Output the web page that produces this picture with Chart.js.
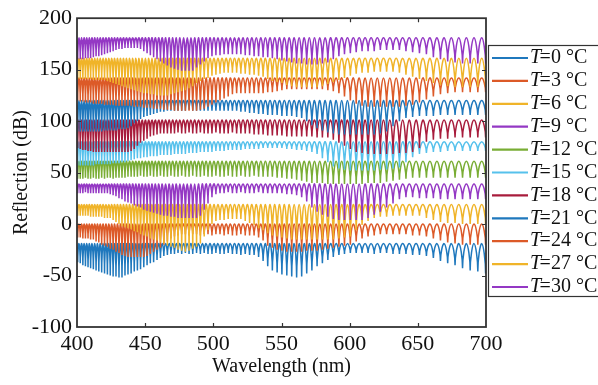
<!DOCTYPE html>
<html>
<head>
<meta charset="utf-8">
<title>Reflection spectra vs temperature</title>
<script src="https://cdn.jsdelivr.net/npm/chart.js@4.4.1/dist/chart.umd.min.js"></script>
<style>
  html, body { margin: 0; padding: 0; background: #fff; }
  #wrap { width: 598px; height: 385px; }
</style>
</head>
<body>
<div id="wrap"><canvas id="reflChart" width="598" height="385"></canvas></div>
<script>
// temperatures (°C) of the eleven spectra, each one shifted up by ~20 dB
const temps = [0, 3, 6, 9, 12, 15, 18, 21, 24, 27, 30];

// fringe maxima (arch tops) and minima (notches), in nm
const peakNm = [399.6, 401.45, 403.35, 405.25, 407.15, 409.05, 411.0, 413.0, 415.0, 417.05,
  419.15, 421.25, 423.35, 425.45, 427.55, 429.7, 431.9, 434.1, 436.3, 438.55,
  440.85, 443.15, 445.45, 447.8, 450.2, 452.6, 455.0, 457.45, 459.95, 462.45,
  465.0, 467.6, 470.2, 472.8, 475.45, 478.15, 480.85, 483.55, 486.3, 489.1,
  491.9, 494.7, 497.55, 500.45, 503.4, 506.4, 509.4, 512.45, 515.55, 518.65,
  521.8, 525.0, 528.25, 531.55, 534.85, 538.2, 541.6, 545.05, 548.55, 552.1,
  555.7, 559.3, 562.95, 566.65, 570.4, 574.2, 578.05, 582.0, 586.0, 590.05,
  594.15, 598.35, 602.65, 606.95, 611.3, 615.75, 620.25, 624.8, 629.45, 634.15,
  638.9, 643.75, 648.7, 653.75, 658.85, 664.0, 669.25, 674.6, 680.05, 685.6,
  691.2, 696.85, 702.5];
const dipNm = [400.5, 402.4, 404.3, 406.2, 408.1, 410.0, 412.0, 414.0, 416.0, 418.1,
  420.2, 422.3, 424.4, 426.5, 428.6, 430.8, 433.0, 435.2, 437.4, 439.7,
  442.0, 444.3, 446.6, 449.0, 451.4, 453.8, 456.2, 458.7, 461.2, 463.7,
  466.3, 468.9, 471.5, 474.1, 476.8, 479.5, 482.2, 484.9, 487.7, 490.5,
  493.3, 496.1, 499.0, 501.9, 504.9, 507.9, 510.9, 514.0, 517.1, 520.2,
  523.4, 526.6, 529.9, 533.2, 536.5, 539.9, 543.3, 546.8, 550.3, 553.9,
  557.5, 561.1, 564.8, 568.5, 572.3, 576.1, 580.0, 584.0, 588.0, 592.1,
  596.2, 600.5, 604.8, 609.1, 613.5, 618.0, 622.5, 627.1, 631.8, 636.5,
  641.3, 646.2, 651.2, 656.3, 661.4, 666.6, 671.9, 677.3, 682.8, 688.4,
  694.0, 699.7];

// reflection at the arch tops (dB), one per temperature
const topLevels = [-19, 0, 19, 39, 61, 80, 101, 120, 142, 161, 181];

// reflection at each notch (dB)
const dipT0 = [-37, -38, -40, -41, -42, -43, -44, -45, -46, -47, -48, -49, -50, -51, -51, -52, -52, -50, -49, -48,
  -46, -45, -44, -42, -40, -38, -37, -35, -33, -31, -30, -29,
  -29, -28, -29, -28, -29, -29, -28, -29, -28, -29, -29, -28, -29, -29, -28, -29, -29, -30, -29, -30, -30,
  -32, -36, -41, -45, -47, -49, -50, -51, -52, -51, -48, -45, -41, -38, -35, -32, -30,
  -29, -28, -28, -28, -28, -29, -28, -28, -29, -29, -29,
  -30, -30, -31, -33, -36, -38, -40, -43, -45, -46, -48];
const dipT3 = [-13, -13, -14, -14, -14, -15, -15, -17, -18, -20, -21, -22, -24, -25, -27, -28, -30, -31, -32, -32,
  -32, -32, -32, -32, -31, -29, -27, -25, -23, -20, -17, -14, -12,
  -11, -10, -10, -11, -10, -10, -11, -10, -10, -11, -10, -10, -11, -10, -11, -11, -10, -11, -11,
  -11, -13, -16, -21, -23, -25, -26, -27, -27, -27, -27, -26, -26, -26, -25, -24, -23, -22, -21, -20, -17, -14, -12,
  -11, -10, -10, -10, -10, -10, -11, -11, -12, -14, -16, -18, -19, -20, -20, -20, -20];
const dipT6 = [8, 8, 8, 8, 8, 7, 7, 7, 7, 7, 6, 6, 6, 4, 2, 0, -2, -3, -4, -5,
  -7, -8, -10, -11, -12, -14, -15, -16, -18, -19, -21, -22, -23, -25, -26, -27, -26, -24, -22, -19,
  -12, -6, 0, 3, 4, 4, 5, 5, 5, 5, 3, 1, -1, -4, -6, -9, -11, -12, -13, -14,
  -15, -15, -15, -15, -15, -15, -15, -15, -15, -14, -13, -12, -6, -1, 3, 6, 7, 7, 8, 8,
  8, 8, 8, 6, 4, 2, 1, 1, 0, 0, 0, 0];
const dipT9 = [30, 30, 30, 31, 30, 30, 30, 30, 30, 30, 30, 30, 29,
  28, 27, 25, 24, 22, 21, 20, 18, 17, 16, 14, 13, 12, 11, 10, 9, 8, 8, 7, 7, 6, 6, 6, 6, 6, 6,
  8, 14, 20, 26, 29, 30,
  30, 31, 30, 30, 31, 30, 30, 30, 31, 30, 30, 30, 30, 30,
  29, 29, 28, 26, 22, 16, 12, 9, 7, 5, 4, 4, 4, 4, 4, 6, 9, 12, 16, 20,
  24, 26, 26, 25, 25, 25, 24, 24, 24, 24, 24, 24, 24];
const dipT12 = [44, 44, 44, 45, 44, 44, 45, 44, 44, 45, 44, 45, 45, 44, 45, 45, 45, 45, 46, 46,
  46, 46, 47, 46, 46, 47, 46, 46, 47, 46, 46, 47, 46, 46, 47, 46, 46, 47, 46, 46, 47,
  46, 46, 47, 46, 46, 47, 46, 46, 47, 46, 46, 47, 46, 46, 46, 46, 45, 45, 44, 44, 43,
  42, 41, 40, 40, 40, 39, 39, 39, 39, 39, 39, 39, 40, 40, 40, 41, 42, 43,
  44, 45, 45, 45, 45, 45, 45, 45, 45, 45, 45, 45];
const dipT15 = [57, 57, 57, 57, 57, 57, 57, 58, 58, 58, 58, 58, 58, 59, 59, 59, 60, 60, 61, 62,
  63, 64, 64, 65, 65, 66, 66, 66, 67, 67, 67, 67,
  68, 68, 68, 68, 69, 69, 69, 70, 70, 70, 70, 71, 71, 71, 72, 72, 72, 72, 73, 73, 73, 73, 74, 74,
  74, 74, 74, 73, 73, 72, 72, 71, 70, 68, 64, 60,
  56, 54, 53, 52, 52, 52, 52, 52, 53, 53, 54, 55, 60, 65, 68, 69,
  70, 70, 71, 71, 71, 71, 71, 71];
const dipT18 = [74, 73, 72, 72, 71, 71, 70, 70, 70, 70, 70, 70, 70, 70, 70, 70, 70, 70, 70, 71,
  73, 76, 79, 81, 83, 85, 86, 87, 88, 88, 88, 88,
  88, 89, 88, 88, 89, 88, 88, 89, 88, 88, 88, 89, 88, 88, 88, 89, 88, 88, 88, 88,
  87, 87, 87, 86, 86, 86, 86, 85, 85, 85, 85, 85,
  85, 84, 84, 84, 82, 79, 76, 73, 70, 69, 68, 68, 68, 68, 68, 69, 69, 70,
  74, 80, 82, 83, 83, 84, 84, 84, 84, 84];
const dipT21 = [90, 90, 90, 90, 90, 90, 90, 90, 90, 90, 91, 91, 91, 91, 91, 92, 92, 92, 93, 95,
  98, 100, 102, 104, 105, 106, 107, 108,
  109, 109, 110, 110, 110, 110, 110, 110, 111, 110, 110, 110, 110, 110, 110, 110, 110, 110, 110, 110,
  110, 109, 109, 108, 108, 107, 107, 106,
  106, 106, 105, 105, 105, 104, 103, 100, 96, 93, 91, 89, 88, 87, 87, 87,
  87, 87, 87, 87, 88, 90, 95, 100, 103, 104,
  105, 105, 105, 106, 106, 106, 106, 106, 106, 106];
const dipT24 = [120, 119, 119, 118, 118, 118, 117, 117, 117, 117, 116, 116, 116, 116, 115, 115, 115, 115, 115, 115,
  114, 114, 114, 113, 113, 113, 112, 112, 112, 111, 111, 111,
  110, 110, 110, 110, 110, 110, 110, 111, 112, 114, 116, 118,
  120, 122, 124, 126, 127, 127, 127, 127, 127, 127, 127, 128, 128, 129, 130, 131,
  131, 131, 131, 131, 131, 131, 131, 130, 129, 127, 124, 120,
  117, 115, 114, 114, 114, 114, 114, 114, 115, 116, 118, 121,
  124, 126, 127, 128, 128, 128, 128, 128];
const dipT27 = [141, 141, 141, 141, 141, 141, 140, 140, 140, 140, 140,
  139, 138, 137, 136, 135, 134, 133, 132, 131,
  130, 129, 128, 127, 127, 126, 126, 125, 125, 125,
  125, 126, 127, 128, 129, 130, 132, 134,
  137, 139, 141, 142, 144, 145, 146, 147,
  147, 147, 147, 146, 146, 145, 145, 144,
  143, 141, 139, 138, 137, 135,
  134, 133, 133, 133, 133, 133, 134, 136,
  138, 140, 142, 144, 146, 147,
  147, 148, 148, 148, 148, 147,
  145, 143, 141, 139, 137, 135,
  134, 133, 133, 133, 133, 134];
const dipT30 = [160, 160, 160, 161, 161, 161, 162, 163, 163, 164, 165,
  166, 167, 168, 169, 170, 170, 171, 171, 171, 171, 171, 170,
  168, 166, 164, 162, 160, 158, 156,
  154, 152, 151, 150, 149, 149, 149, 149,
  152, 155, 158, 161, 163, 164,
  164, 165, 165, 165, 165, 165, 164, 164, 163, 163,
  162, 162, 161, 160, 159, 158,
  157, 156, 156, 155, 155, 155, 156, 157,
  160, 163, 165, 166, 167, 168,
  168, 168, 169, 169, 169, 169,
  168, 167, 166, 165, 162, 160,
  158, 157, 156, 156, 156, 156];

const dipSets = [dipT0, dipT3, dipT6, dipT9, dipT12, dipT15, dipT18, dipT21, dipT24, dipT27, dipT30];

const lineColors = ['#1f78bd', '#dc5a28', '#f0b429', '#9438c4', '#79ad34', '#56c1ec',
  '#a81c3c', '#1f78bd', '#dc5a28', '#f0b429', '#9438c4'];

const serif = '"Liberation Serif", "Times New Roman", serif';

// top / notch / top / notch ... for one temperature
function buildSeries(top, dips) {
  const pts = [];
  for (let i = 0; i < dips.length; i++) {
    pts.push({ x: peakNm[i], y: top });
    pts.push({ x: dipNm[i], y: dips[i] });
  }
  pts.push({ x: peakNm[dips.length], y: top });
  return pts;
}

const datasets = temps.map((t, i) => ({
  label: 'T=' + t + ' °C',
  data: buildSeries(topLevels[i], dipSets[i]),
  borderColor: lineColors[i],
  borderWidth: 1.5,
  pointRadius: 0,
  tension: 0.4,
  fill: false,
  order: temps.length - i
}));

// round arch tops but sharp notches: after the bezier handles are computed,
// pull the handles of every notch straight up so the curve comes in steeply
const notchShape = {
  id: 'notchShape',
  beforeDatasetDraw(chart, args) {
    const meta = args.meta;
    meta.dataset.updateControlPoints(chart.chartArea, meta.iScale.axis);
    const pts = meta.data;
    for (let i = 1; i < pts.length - 1; i += 2) {
      const p = pts[i];
      const lift = (Math.max(pts[i - 1].y, pts[i + 1].y) - p.y) * 0.45;
      p.cp1x = p.x; p.cp2x = p.x;
      p.cp1y = p.y + lift; p.cp2y = p.y + lift;
    }
  }
};

// box around the plot with inward ticks on all four sides
const frame = {
  id: 'frame',
  afterDatasetsDraw(chart) {
    const { ctx, chartArea: a, scales } = chart;
    ctx.save();
    ctx.strokeStyle = '#333';
    ctx.lineWidth = 1.8;
    ctx.strokeRect(a.left, a.top, a.right - a.left, a.bottom - a.top);
    ctx.lineWidth = 1.2;
    ctx.beginPath();
    scales.x.ticks.forEach(t => {
      if (t.value <= scales.x.min || t.value >= scales.x.max) return;
      const x = Math.round(scales.x.getPixelForValue(t.value)) + 0.5;
      ctx.moveTo(x, a.bottom); ctx.lineTo(x, a.bottom - 4);
      ctx.moveTo(x, a.top); ctx.lineTo(x, a.top + 4);
    });
    scales.y.ticks.forEach(t => {
      if (t.value <= scales.y.min || t.value >= scales.y.max) return;
      const y = Math.round(scales.y.getPixelForValue(t.value)) + 0.5;
      ctx.moveTo(a.left, y); ctx.lineTo(a.left + 4, y);
      ctx.moveTo(a.right, y); ctx.lineTo(a.right - 4, y);
    });
    ctx.stroke();
    ctx.restore();
  }
};

// legend box on the right, "T" in italics
const tempLegend = {
  id: 'tempLegend',
  afterDraw(chart) {
    const ctx = chart.ctx;
    const left = chart.chartArea.right + 2;
    const top = 45;
    const rowH = 22.9;
    ctx.save();
    ctx.fillStyle = '#fff';
    ctx.fillRect(left, top, 130, 252);
    ctx.strokeStyle = '#333';
    ctx.lineWidth = 1.2;
    ctx.strokeRect(left + 0.5, top + 0.5, 130, 251);
    ctx.textBaseline = 'middle';
    chart.data.datasets.forEach((ds, i) => {
      const y = top + 13 + i * rowH;
      ctx.strokeStyle = ds.borderColor;
      ctx.lineWidth = 2.2;
      ctx.beginPath();
      ctx.moveTo(left + 4, y);
      ctx.lineTo(left + 40, y);
      ctx.stroke();
      ctx.fillStyle = '#111';
      ctx.font = 'italic 20px ' + serif;
      ctx.fillText('T', left + 42, y);
      const w = ctx.measureText('T').width;
      ctx.font = '20px ' + serif;
      ctx.fillText('=' + temps[i] + ' °C', left + 42 + w - 1.5, y);
    });
    ctx.restore();
  }
};

const ctx = document.getElementById('reflChart').getContext('2d');
new Chart(ctx, {
  type: 'line',
  data: { datasets: datasets },
  plugins: [notchShape, frame, tempLegend],
  options: {
    responsive: false,
    animation: false,
    events: [],
    layout: { padding: { top: 10, right: 112, left: 0, bottom: 0 } },
    plugins: { legend: { display: false }, tooltip: { enabled: false } },
    scales: {
      x: {
        type: 'linear',
        min: 400,
        max: 700,
        afterFit(scale) { scale.height = 58; },
        grid: { display: false, drawTicks: false },
        border: { display: false },
        ticks: { stepSize: 50, padding: 4, color: '#111', font: { family: serif, size: 22 } },
        title: {
          display: true,
          text: 'Wavelength (nm)',
          color: '#111',
          font: { family: serif, size: 20 },
          padding: { top: 0, bottom: 6 }
        }
      },
      y: {
        min: -100,
        max: 200,
        afterFit(scale) { scale.width = 77; },
        grid: { display: false, drawTicks: false },
        border: { display: false },
        ticks: { stepSize: 50, padding: 5, color: '#111', font: { family: serif, size: 22 } },
        title: {
          display: true,
          text: 'Reflection (dB)',
          color: '#111',
          font: { family: serif, size: 20 },
          padding: { top: 10, bottom: 0 }
        }
      }
    }
  }
});
</script>
</body>
</html>
